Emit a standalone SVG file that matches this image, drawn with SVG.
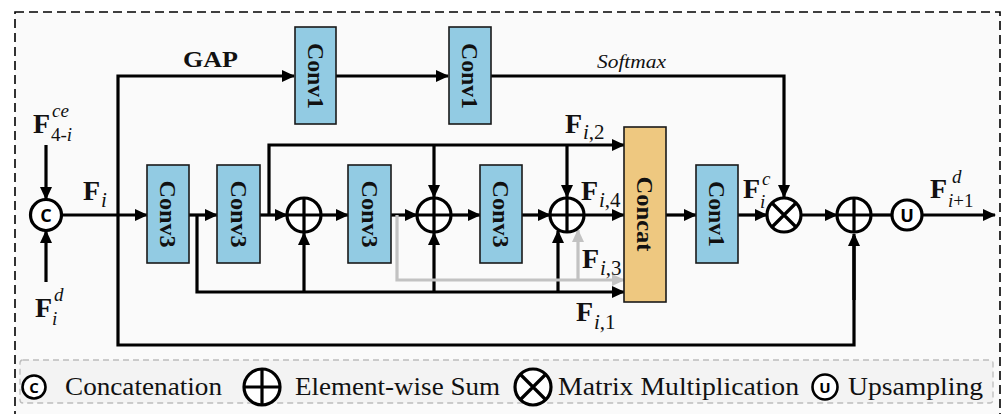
<svg xmlns="http://www.w3.org/2000/svg" width="1002" height="414" viewBox="0 0 1002 414">
<defs>
<marker id="ah" markerUnits="userSpaceOnUse" markerWidth="13" markerHeight="12" refX="12" refY="6" orient="auto"><path d="M0,0 L13,6 L0,12 z" fill="#000"/></marker>
<marker id="ahg" markerUnits="userSpaceOnUse" markerWidth="13" markerHeight="12" refX="12" refY="6" orient="auto"><path d="M0,0 L13,6 L0,12 z" fill="#c2c2c2"/></marker>
<style>
.conv{fill:#92cbe3;stroke:#1a1a1a;stroke-width:1.6}
.cat{fill:#eec880;stroke:#1a1a1a;stroke-width:1.6}
.bt{font-family:"Liberation Serif",serif;font-weight:bold;font-size:24px;fill:#111;text-anchor:middle;dominant-baseline:central}
.ln{fill:none;stroke:#000;stroke-width:3.2;marker-end:url(#ah)}
.lnn{fill:none;stroke:#000;stroke-width:3.2}
.gr{fill:none;stroke:#c2c2c2;stroke-width:3.2;marker-end:url(#ahg)}
.op{fill:#fff;stroke:#000;stroke-width:3.2}
.opl{stroke:#000;stroke-width:3.2}
.F{font-family:"Liberation Serif",serif;font-weight:bold;font-size:28px;fill:#111}
.s{font-family:"Liberation Serif",serif;font-style:italic;font-size:21px;fill:#111}
.ss{font-family:"Liberation Serif",serif;font-style:italic;font-size:19px;fill:#111}
.sn{font-family:"Liberation Serif",serif;font-size:21px;fill:#111}
.ssn{font-family:"Liberation Serif",serif;font-size:19px;fill:#111}
.lg{font-family:"Liberation Serif",serif;font-size:25px;fill:#111}
.ci{font-family:"Open Sans",sans-serif;font-weight:bold;fill:#000;text-anchor:middle;dominant-baseline:central}
</style>
</defs>
<rect x="0" y="0" width="1002" height="414" fill="#fff"/>
<rect x="15" y="12" width="985" height="430" fill="#fafafa" stroke="#000" stroke-width="1.6" stroke-dasharray="9,5"/>

<g id="connectors">
<path class="ln" d="M118,215 V76 H294"/>
<path class="lnn" d="M118,215 V345 H854 V236"/>
<path class="ln" d="M854,300 V234"/>
<path class="ln" d="M336,76 H448"/>
<path class="ln" d="M491,76 H784 V197"/>
<path class="ln" d="M46,145 V199"/>
<path class="ln" d="M46,282 V231"/>
<path class="ln" d="M62,215 H147"/>
<path class="ln" d="M189,215 H217"/>
<path class="ln" d="M260,215 H287"/>
<path class="ln" d="M269,215 V145 H624"/>
<path class="ln" d="M434,145 V197"/>
<path class="ln" d="M567,145 V197"/>
<path class="ln" d="M197,215 V292 H624"/>
<path class="ln" d="M304,292 V233"/>
<path class="ln" d="M434,292 V233"/>
<path class="ln" d="M558,292 V231"/>
<path class="ln" d="M321,215 H348"/>
<path class="ln" d="M391,215 H417"/>
<path class="ln" d="M451,215 H480"/>
<path class="ln" d="M522,215 H550"/>
<path class="ln" d="M584,215 H624"/>
<path class="gr" d="M397,215 V280 H624"/>
<path class="gr" d="M578,280 V230"/>
<path class="ln" d="M666,215 H696"/>
<path class="ln" d="M738,215 H767"/>
<path class="ln" d="M801,215 H837"/>
<path class="lnn" d="M871,215 H892"/>
<path class="ln" d="M922,215 H995"/>
</g>

<g id="conv1a"><rect class="conv" x="295" y="27" width="41" height="97"/><text class="bt" transform="translate(315.5,76) rotate(90)" textLength="66" lengthAdjust="spacingAndGlyphs">Conv1</text></g>
<g id="conv1b"><rect class="conv" x="449" y="27" width="42" height="97"/><text class="bt" transform="translate(470,76) rotate(90)" textLength="66" lengthAdjust="spacingAndGlyphs">Conv1</text></g>
<g id="conv3a"><rect class="conv" x="147" y="165" width="42" height="98"/><text class="bt" transform="translate(168,214) rotate(90)" textLength="67" lengthAdjust="spacingAndGlyphs">Conv3</text></g>
<g id="conv3b"><rect class="conv" x="217" y="165" width="43" height="98"/><text class="bt" transform="translate(238.5,214) rotate(90)" textLength="67" lengthAdjust="spacingAndGlyphs">Conv3</text></g>
<g id="conv3c"><rect class="conv" x="348" y="165" width="43" height="98"/><text class="bt" transform="translate(369.5,214) rotate(90)" textLength="67" lengthAdjust="spacingAndGlyphs">Conv3</text></g>
<g id="conv3d"><rect class="conv" x="480" y="165" width="42" height="98"/><text class="bt" transform="translate(501,214) rotate(90)" textLength="67" lengthAdjust="spacingAndGlyphs">Conv3</text></g>
<g id="concat"><rect class="cat" x="624" y="127" width="42" height="175"/><text class="bt" transform="translate(645,214) rotate(90)" textLength="75" lengthAdjust="spacingAndGlyphs">Concat</text></g>
<g id="conv1c"><rect class="conv" x="696" y="165" width="42" height="98"/><text class="bt" transform="translate(717,214) rotate(90)" textLength="66" lengthAdjust="spacingAndGlyphs">Conv1</text></g>

<g id="catop"><circle class="op" cx="46" cy="215" r="15.5"/><text class="ci" x="46" y="215" font-size="18">C</text></g>
<g id="sum1"><circle class="op" cx="304" cy="215" r="17"/><path class="opl" d="M287,215 H321 M304,198 V232"/></g>
<g id="sum2"><circle class="op" cx="434" cy="215" r="17"/><path class="opl" d="M417,215 H451 M434,198 V232"/></g>
<g id="sum3"><circle class="op" cx="567" cy="215" r="17"/><path class="opl" d="M550,215 H584 M567,198 V232"/></g>
<g id="mult"><circle class="op" cx="784" cy="215" r="17"/><path class="opl" d="M772,203 L796,227 M796,203 L772,227"/></g>
<g id="sum4"><circle class="op" cx="854" cy="215" r="17"/><path class="opl" d="M837,215 H871 M854,198 V232"/></g>
<g id="ups"><circle class="op" cx="907" cy="215" r="15"/><text class="ci" x="907" y="215" font-size="18">U</text></g>

<g id="labels">
<text x="183" y="67" font-family="Liberation Serif, serif" font-weight="bold" font-size="23" fill="#111" textLength="55" lengthAdjust="spacingAndGlyphs">GAP</text>
<text x="597" y="68" font-family="Liberation Serif, serif" font-style="italic" font-size="18" fill="#111" textLength="69" lengthAdjust="spacingAndGlyphs">Softmax</text>
<text class="F" x="33" y="133">F</text><text class="ss" x="52" y="117">ce</text><text class="ssn" x="51" y="141">4-<tspan font-style="italic">i</tspan></text>
<text class="F" x="83" y="200">F</text><text class="s" x="101" y="207">i</text>
<text class="F" x="35" y="317">F</text><text class="ss" x="54" y="301">d</text><text class="ss" x="52" y="325">i</text>
<text class="F" x="565" y="133">F</text><text class="sn" x="583" y="139"><tspan font-style="italic">i</tspan>,2</text>
<text class="F" x="581" y="200">F</text><text class="sn" x="599" y="207"><tspan font-style="italic">i</tspan>,4</text>
<text class="F" x="582" y="268">F</text><text class="sn" x="600" y="275"><tspan font-style="italic">i</tspan>,3</text>
<text class="F" x="576" y="321">F</text><text class="sn" x="594" y="329"><tspan font-style="italic">i</tspan>,1</text>
<text class="F" x="743" y="198">F</text><text class="ss" x="762" y="185">c</text><text class="ss" x="760" y="208">i</text>
<text class="F" x="930" y="198">F</text><text class="ss" x="952" y="183">d</text><text class="ssn" x="948" y="207"><tspan font-style="italic">i</tspan>+1</text>
</g>

<g id="legend">
<rect x="20" y="360" width="973" height="43" rx="3" fill="#f3f3f3" stroke="#bdbdbd" stroke-width="1.3" stroke-dasharray="6,4"/>
<circle cx="34" cy="387" r="11.5" fill="#fff" stroke="#000" stroke-width="2.6"/><text class="ci" x="34" y="387" font-size="15">C</text>
<text class="lg" x="65" y="395" textLength="157" lengthAdjust="spacingAndGlyphs">Concatenation</text>
<circle cx="262" cy="387" r="18" fill="#fff" stroke="#000" stroke-width="3.2"/><path class="opl" d="M244,387 H280 M262,369 V405"/>
<text class="lg" x="295" y="395" textLength="205" lengthAdjust="spacingAndGlyphs">Element-wise Sum</text>
<circle cx="533" cy="387" r="18" fill="#fff" stroke="#000" stroke-width="3.2"/><path class="opl" d="M520,374 L546,400 M546,374 L520,400"/>
<text class="lg" x="558" y="395" textLength="241" lengthAdjust="spacingAndGlyphs">Matrix Multiplication</text>
<circle cx="825" cy="387" r="12.5" fill="#fff" stroke="#000" stroke-width="2.6"/><text class="ci" x="825" y="387" font-size="15">U</text>
<text class="lg" x="848" y="395" textLength="135" lengthAdjust="spacingAndGlyphs">Upsampling</text>
</g>
</svg>
